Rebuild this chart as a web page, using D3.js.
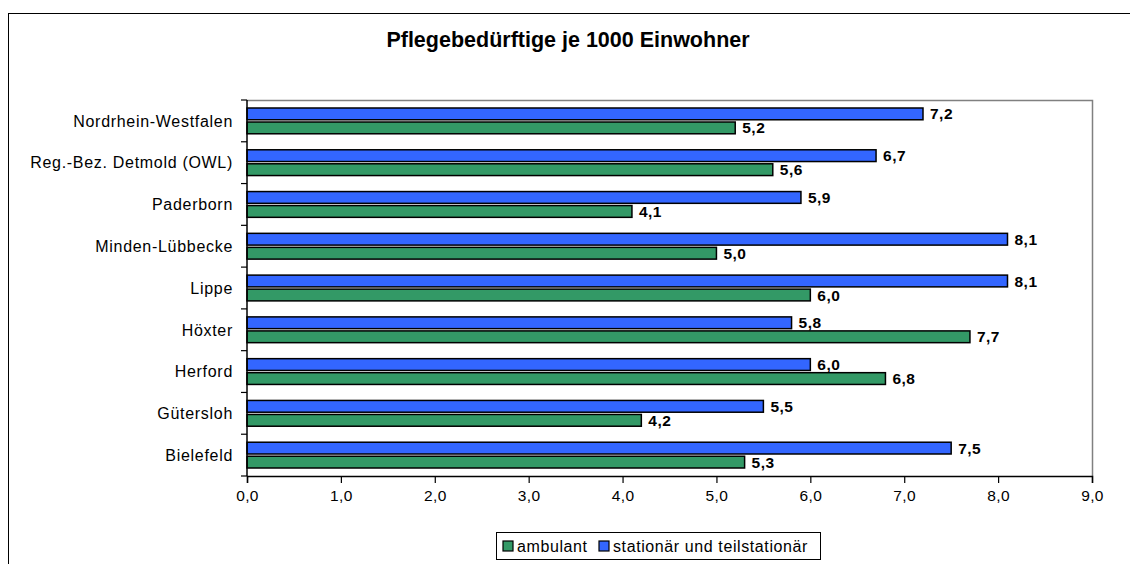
<!DOCTYPE html>
<html>
<head>
<meta charset="utf-8">
<script src="https://cdn.jsdelivr.net/npm/d3@7"></script>
<style>
  body { margin: 0; background: #fff; }
  svg { font-family: "Liberation Sans", Arial, sans-serif; }
</style>
</head>
<body>
<svg id="chart" width="1130" height="564"></svg>
<script>
// data
var categories = ["Nordrhein-Westfalen", "Reg.-Bez. Detmold (OWL)", "Paderborn", "Minden-Lübbecke",
                  "Lippe", "Höxter", "Herford", "Gütersloh", "Bielefeld"];
var stationaer = [7.2, 6.7, 5.9, 8.1, 8.1, 5.8, 6.0, 5.5, 7.5];
var ambulant   = [5.2, 5.6, 4.1, 5.0, 6.0, 7.7, 6.8, 4.2, 5.3];
var xTicks = [0, 1, 2, 3, 4, 5, 6, 7, 8, 9];
var seriesNames = ["ambulant", "stationär und teilstationär"];
var seriesColors = ["#339966", "#3366FF"];

var svg = d3.select("#chart");
var fmt = function(v) { return v.toFixed(1).replace(".", ","); };

// outer frame (runs past right/bottom edge like the screenshot)
svg.append("rect")
    .attr("x", 8.5).attr("y", 13.5)
    .attr("width", 1140).attr("height", 570)
    .attr("fill", "none").attr("stroke", "#000").attr("stroke-width", 1);

svg.append("text")
    .attr("x", 568).attr("y", 47)
    .attr("text-anchor", "middle")
    .attr("font-size", 21.5).attr("font-weight", "bold")
    .text("Pflegebedürftige je 1000 Einwohner");

var plot = { left: 247, top: 100, right: 1092, bottom: 476 };

var x = d3.scaleLinear().domain([0, 9]).range([plot.left, plot.right]);
var y = d3.scaleBand().domain(categories).range([plot.top, plot.bottom]);

// plot area border (gray top/right)
svg.append("path")
    .attr("d", "M" + plot.left + "," + (plot.top + 0.5) + "H" + (plot.right + 0.5) + "V" + plot.bottom)
    .attr("fill", "none").attr("stroke", "#808080").attr("stroke-width", 1.5);

// bars: blue on top, green below within each category
var inner = d3.scaleBand().domain([1, 0]).range([8, y.bandwidth() - 8]).paddingInner(0.16);
var rows = [stationaer, ambulant];
var colorsFor = [seriesColors[1], seriesColors[0]];

rows.forEach(function(vals, si) {
    var key = si === 0 ? 1 : 0;
    var g = svg.append("g");
    g.selectAll("rect")
        .data(vals)
        .join("rect")
        .attr("x", plot.left)
        .attr("y", function(d, i) { return y(categories[i]) + inner(key); })
        .attr("width", function(d) { return x(d) - plot.left; })
        .attr("height", inner.bandwidth())
        .attr("fill", colorsFor[si])
        .attr("stroke", "#000").attr("stroke-width", 1.5);
    g.selectAll("text")
        .data(vals)
        .join("text")
        .attr("x", function(d) { return x(d) + 7; })
        .attr("y", function(d, i) { return y(categories[i]) + inner(key) + inner.bandwidth() / 2; })
        .attr("dy", "0.36em")
        .attr("font-size", 15.5).attr("font-weight", "bold")
        .attr("letter-spacing", 0.5)
        .text(fmt);
});

// y axis
var yAxis = svg.append("g");
yAxis.append("line")
    .attr("x1", plot.left).attr("x2", plot.left)
    .attr("y1", plot.top).attr("y2", plot.bottom)
    .attr("stroke", "#000").attr("stroke-width", 1.5);
yAxis.selectAll("line.tick")
    .data(categories.concat([null]))
    .join("line")
    .attr("class", "tick")
    .attr("x1", plot.left - 6).attr("x2", plot.left)
    .attr("y1", function(d) { return d === null ? plot.bottom : y(d); })
    .attr("y2", function(d) { return d === null ? plot.bottom : y(d); })
    .attr("stroke", "#000").attr("stroke-width", 1.2);
yAxis.selectAll("text")
    .data(categories)
    .join("text")
    .attr("x", plot.left - 14)
    .attr("y", function(d) { return y(d) + y.bandwidth() / 2; })
    .attr("dy", "0.36em")
    .attr("text-anchor", "end")
    .attr("font-size", 16)
    .attr("letter-spacing", 0.7)
    .text(function(d) { return d; });

// x axis
var xAxis = d3.axisBottom(x).tickValues(xTicks).tickSize(7).tickPadding(7).tickFormat(fmt);
var gx = svg.append("g")
    .attr("transform", "translate(0," + plot.bottom + ")")
    .call(xAxis);
gx.select(".domain").attr("stroke-width", 1.5);
gx.selectAll(".tick line").attr("stroke-width", 1.2);
gx.selectAll(".tick text")
    .attr("font-family", "Liberation Sans, Arial, sans-serif")
    .attr("font-size", 15.5).attr("fill", "#000")
    .attr("letter-spacing", 0.4);

// legend
var lg = svg.append("g").attr("transform", "translate(496,532)");
lg.append("rect")
    .attr("x", 0.5).attr("y", 0.5).attr("width", 324).attr("height", 27)
    .attr("fill", "#fff").attr("stroke", "#000");
var legendX = [7, 103];
seriesNames.forEach(function(name, i) {
    lg.append("rect")
        .attr("x", legendX[i]).attr("y", 9).attr("width", 10).attr("height", 10)
        .attr("fill", seriesColors[i]).attr("stroke", "#000").attr("stroke-width", 1.2);
    lg.append("text")
        .attr("x", legendX[i] + 14).attr("y", 14).attr("dy", "0.36em")
        .attr("font-size", 16)
        .attr("letter-spacing", 0.6)
        .text(name);
});
</script>
</body>
</html>
